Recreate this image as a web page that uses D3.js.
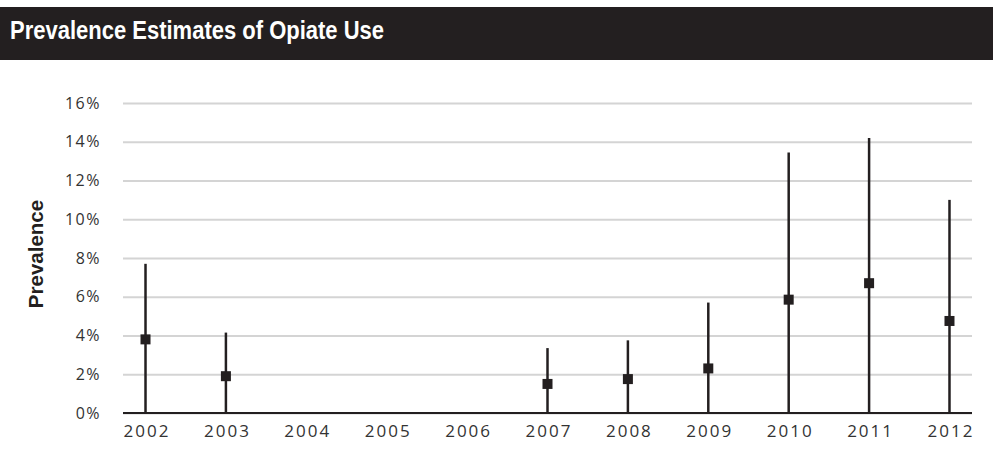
<!DOCTYPE html>
<html>
<head>
<meta charset="utf-8">
<style>
  body { margin: 0; background: #fff; }
  svg { display: block; }
</style>
</head>
<body>
<div id="chart"></div>
<script src="https://cdn.jsdelivr.net/npm/d3@7"></script>
<script>
// data
var years = ["2002", "2003", "2004", "2005", "2006", "2007", "2008", "2009", "2010", "2011", "2012"];
var estYears = ["2002", "2003", "2007", "2008", "2009", "2010", "2011", "2012"];
var estimate = [3.8, 1.9, 1.5, 1.75, 2.3, 5.85, 6.7, 4.75];
var upper = [7.7, 4.15, 3.35, 3.75, 5.7, 13.45, 14.2, 11.0];
var lower = [0, 0, 0, 0, 0, 0, 0, 0];
var yTicks = [0, 2, 4, 6, 8, 10, 12, 14, 16];

var W = 993, H = 465;
var dark = "#231f20";

var svg = d3.select("#chart").append("svg")
    .attr("width", W)
    .attr("height", H);

// title bar
svg.append("rect")
    .attr("x", 0).attr("y", 7)
    .attr("width", W).attr("height", 53)
    .attr("fill", dark);
svg.append("text")
    .attr("transform", "translate(10,39) scale(0.846,1)")
    .attr("fill", "#fff")
    .style("font-family", "'Liberation Sans', Arial, sans-serif")
    .style("font-weight", "bold")
    .style("font-size", "26px")
    .text("Prevalence Estimates of Opiate Use");

var x = d3.scalePoint()
    .domain(years)
    .range([123, 972])
    .padding(0.28);

var y = d3.scaleLinear()
    .domain([0, 16])
    .range([413, 103]);

// gridlines
var grid = svg.append("g")
    .attr("transform", "translate(123,0)")
    .call(d3.axisLeft(y).tickValues(yTicks).tickSize(-849).tickFormat(""));
grid.select(".domain").remove();
grid.selectAll(".tick line").attr("stroke", "#d4d4d4").attr("stroke-width", 2);

// y tick labels
var yAxis = svg.append("g")
    .attr("transform", "translate(101,0)")
    .call(d3.axisLeft(y).tickValues(yTicks).tickSize(0).tickPadding(0).tickFormat(function (d) { return d + "%"; }));
yAxis.select(".domain").remove();
yAxis.selectAll("text")
    .attr("fill", "#333")
    .style("font-family", "'Open Sans', sans-serif")
    .style("font-size", "16px")
    .style("letter-spacing", "1.5px");

// x axis
var xAxis = svg.append("g")
    .attr("transform", "translate(0,413)")
    .call(d3.axisBottom(x).tickSize(0).tickPadding(12));
xAxis.select(".domain").remove();
xAxis.selectAll("text")
    .attr("fill", "#333")
    .attr("dx", "1px")
    .style("font-family", "'Open Sans', sans-serif")
    .style("font-size", "17px")
    .style("letter-spacing", "2px");

svg.append("line")
    .attr("x1", 123).attr("x2", 972)
    .attr("y1", y(0)).attr("y2", y(0))
    .attr("stroke", dark)
    .attr("stroke-width", 2);

// y axis title
svg.append("text")
    .attr("transform", "translate(43,254) rotate(-90)")
    .attr("text-anchor", "middle")
    .attr("fill", dark)
    .style("font-family", "'Liberation Sans', Arial, sans-serif")
    .style("font-weight", "bold")
    .style("font-size", "20.5px")
    .text("Prevalence");

// error bars and estimates
var pts = estYears.map(function (yr, i) {
    return { year: yr, est: estimate[i], hi: upper[i], lo: lower[i] };
});

var g = svg.append("g");
g.selectAll("line.err")
    .data(pts)
    .enter().append("line")
    .attr("class", "err")
    .attr("x1", function (d) { return x(d.year); })
    .attr("x2", function (d) { return x(d.year); })
    .attr("y1", function (d) { return y(d.hi); })
    .attr("y2", function (d) { return y(d.lo); })
    .attr("stroke", dark)
    .attr("stroke-width", 2.5);

var s = 10;
g.selectAll("rect.est")
    .data(pts)
    .enter().append("rect")
    .attr("class", "est")
    .attr("x", function (d) { return x(d.year) - s / 2; })
    .attr("y", function (d) { return y(d.est) - s / 2; })
    .attr("width", s)
    .attr("height", s)
    .attr("fill", dark);
</script>
</body>
</html>
